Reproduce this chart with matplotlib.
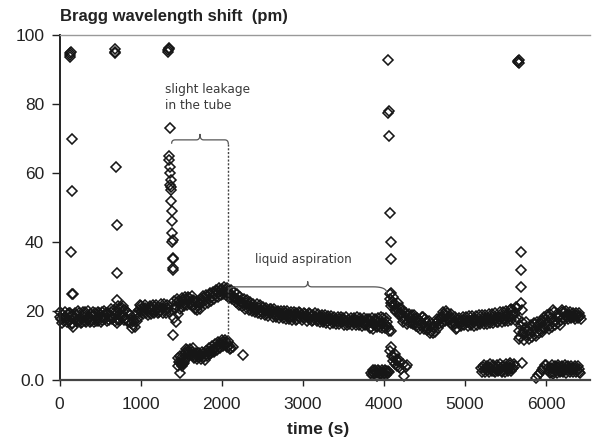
import numpy as np
import matplotlib
matplotlib.use('Agg')
import matplotlib.pyplot as plt

plt.rcParams['font.family'] = ['Liberation Sans', 'DejaVu Sans']

# main trace, one reading every 10 s (two interleaved lists)
t_main = np.arange(0, 6440, 20)
shift_main = [
    18.2, 17.6, 18.8, 17.9, 18.4, 19.2, 17.1, 18.6, 16.4, 17.8,
    18.9, 17.3, 19.4, 18.1, 16.9, 18.7, 19.6, 17.8, 18.3, 19.1,
    17.5, 18.6, 19.3, 18.0, 17.2, 18.9, 19.7, 18.4, 17.6, 19.0,
    19.5, 18.2, 19.8, 17.9, 18.8, 20.1, 17.4, 19.2, 18.5, 19.9,
    18.6, 17.8, 19.3, 17.2, 16.4, 15.9, 17.0, 18.8, 19.6, 20.2,
    19.7, 20.6, 19.9, 20.8, 20.3, 19.6, 20.9, 20.4, 21.2, 20.0,
    20.7, 21.3, 20.1, 20.9, 21.0, 20.4, 20.8, 20.5, np.nan, np.nan,
    np.nan, np.nan, 21.5, 19.0, 22.4, 21.2, 23.1, 22.0, 23.6, 22.8,
    23.9, 22.5, 21.4, 22.9, 21.0, 20.3, 22.2, 23.4, 22.7, 23.8,
    23.2, 24.1, 23.6, 24.8, 24.2, 25.3, 24.7, 25.8, 25.2, 26.1,
    26.3, 25.7, 26.0, 25.4, 25.0, 24.6, 24.9, 24.1, 23.8, 23.4,
    23.1, 22.6, 22.9, 22.2, 21.8, 22.3, 21.5, 21.9, 21.2, 20.8,
    21.3, 20.7, 20.4, 20.9, 20.1, 19.7, 20.3, 19.9, 19.5, 20.0,
    19.4, 19.8, 19.1, 19.6, 18.9, 19.3, 18.7, 19.2, 18.8, 19.5,
    18.6, 19.0, 18.4, 18.9, 18.2, 18.7, 19.3, 18.5, 18.1, 18.8,
    18.4, 17.9, 18.6, 18.2, 17.8, 18.5, 18.9, 18.0, 18.3, 17.7,
    18.2, 17.6, 18.4, 17.3, 17.9, 17.2, 17.7, 17.4, 17.8, 17.1,
    17.5, 17.0, 17.6, 17.2, 16.9, 17.4, 17.1, 16.8, 17.3, 16.9,
    17.2, 16.8, 17.4, 16.9, 17.1, 16.7, 17.3, 16.5, 17.0, 16.6,
    16.1, 17.5, 15.4, 16.8, 15.9, 17.2, 15.6, 16.9, 18.3, 16.2,
    16.6, 15.8, 16.9, 14.2, 23.5, 22.6, 21.4, 22.1, 20.5, 21.0,
    19.4, 18.1, 19.9, 17.6, 18.7, 16.9, 18.2, 17.1, 16.3, 17.8,
    16.5, 15.4, 17.2, 16.0, 18.3, 15.6, 16.8, 14.9, 15.7, 14.1,
    13.6, 15.2, 16.4, 17.0, 16.2, 17.8, 18.4, 19.1, 18.6, 19.3,
    18.2, 17.5, 17.9, 16.8, 16.1, 15.2, 16.6, 17.1, 16.9, 17.3,
    17.0, 16.7, 17.2, 16.9, 17.4, 16.8, 17.1, 17.5, 17.2, 16.9,
    17.4, 17.8, 17.1, 17.6, 18.0, 17.3, 17.7, 18.2, 17.5, 17.9,
    18.3, 17.6, 18.1, 18.6, 17.8, 18.4, 19.0, 18.2, 20.6, 18.7,
    18.9, 19.4, 20.8, 14.2, 12.6, 16.9, 13.8, 15.1, 12.9, 14.6,
    13.4, 15.3, 14.1, 16.2, 13.7, 15.8, 14.5, 16.6, 15.2, 17.4,
    16.1, 18.3, 15.6, 17.9, 16.8, 19.7, 17.2, 16.4, 18.6, 17.5,
    20.4, 19.6, 18.9, 18.4, 18.7, 18.2, 18.6, 18.3, 18.8, 18.5,
    18.4, 18.6,
]
t_main_b = np.arange(10, 6450, 20)
shift_main_b = [
    19.6, 16.5, 17.2, 19.8, 16.9, 17.4, 19.5, 16.2, 18.9, 19.4,
    16.8, 19.9, 17.0, 16.4, 19.7, 17.1, 16.7, 20.0, 16.9, 17.2,
    19.6, 16.9, 17.1, 19.8, 19.4, 16.8, 17.5, 19.9, 19.5, 17.1,
    17.4, 20.6, 17.6, 20.3, 17.1, 17.8, 20.5, 17.3, 20.8, 17.5,
    20.2, 19.8, 16.9, 18.8, 15.0, 17.4, 15.3, 17.2, 18.0, 21.6,
    21.4, 19.0, 21.6, 19.3, 18.9, 21.5, 19.2, 21.8, 19.4, 21.7,
    19.4, 19.6, 21.9, 19.5, 22.0, 19.3, 21.8, 19.6, np.nan, np.nan,
    np.nan, np.nan, 23.4, 22.8, 20.6, 23.9, 21.4, 24.2, 21.8, 24.0,
    21.9, 24.3, 23.1, 20.7, 22.6, 21.7, 20.6, 21.9, 24.4, 21.9,
    24.6, 22.4, 25.1, 22.9, 25.6, 23.6, 26.2, 24.1, 26.7, 24.6,
    25.0, 27.1, 24.6, 26.8, 23.8, 26.1, 23.4, 25.6, 22.7, 24.9,
    21.8, 24.0, 21.4, 23.5, 20.7, 23.1, 20.3, 22.6, 20.1, 22.0,
    19.8, 21.9, 19.3, 21.6, 19.1, 21.1, 18.8, 20.9, 18.5, 20.6,
    20.6, 18.4, 20.5, 18.2, 20.1, 18.0, 19.9, 17.9, 20.0, 17.8,
    19.9, 17.6, 19.8, 17.5, 19.6, 17.4, 17.6, 19.7, 19.4, 17.3,
    19.5, 19.1, 17.2, 19.4, 19.2, 17.1, 17.3, 19.3, 17.0, 19.1,
    16.9, 18.9, 16.7, 18.8, 16.6, 18.6, 16.3, 18.5, 16.4, 18.2,
    16.2, 18.3, 16.1, 18.4, 18.1, 16.0, 18.2, 15.9, 16.1, 18.0,
    15.9, 18.1, 16.0, 18.2, 15.8, 17.9, 15.7, 18.0, 15.8, 17.8,
    17.6, 15.0, 17.9, 14.8, 17.6, 15.3, 18.1, 15.5, 15.1, 17.9,
    15.2, 17.9, 15.4, 25.0, 21.4, 24.1, 20.2, 19.6, 22.3, 19.2,
    20.9, 16.8, 18.6, 19.5, 16.1, 19.2, 16.5, 18.9, 18.7, 15.6,
    18.1, 17.3, 14.8, 18.2, 14.9, 17.6, 14.4, 17.2, 13.5, 16.3,
    15.3, 13.9, 17.8, 15.2, 18.1, 16.4, 19.8, 17.2, 20.1, 17.4,
    16.4, 19.0, 15.8, 18.3, 14.7, 17.3, 18.0, 15.6, 18.4, 15.8,
    18.4, 15.6, 18.6, 15.8, 18.5, 15.7, 18.6, 16.0, 18.7, 16.1,
    18.8, 16.2, 18.9, 16.3, 19.2, 16.4, 19.0, 16.6, 19.3, 16.7,
    16.8, 19.6, 16.9, 19.8, 17.0, 19.9, 17.1, 20.2, 17.3, 20.4,
    17.4, 21.2, 17.6, 11.8, 15.7, 13.4, 11.5, 16.8, 14.2, 11.9,
    15.9, 12.6, 16.4, 12.8, 16.9, 13.6, 17.1, 13.9, 18.2, 15.1,
    18.8, 14.7, 19.1, 15.4, 20.3, 15.8, 19.0, 17.9, 16.0, 19.6,
    18.0, 17.6, 19.9, 17.7, 19.6, 17.9, 19.5, 17.8, 19.3, 17.9,
    19.4, 17.8,
]

# spikes and scattered readings around the main trace
t_spike = [130, 125, 135, 140, 150, 150, 145, 150, 166, 166, 120,
           680, 690, 685, 700, 705, 705, 705, 710, 717, 785,
           1338, 1345, 1342, 1350, 1360, 1350, 1355, 1360, 1365, 1370, 1368,
           1375, 1372, 1380, 1385, 1382, 1390, 1395, 1388, 1398, 1400, 1395,
           1400, 1410, 1420, 1415, 1405, 1430, 1440, 1450,
           4050, 4055, 4060, 4058, 4070, 4085, 4085, 4085, 4085, 4085,
           5653, 5660, 5665, 5658, 5686, 5686, 5686, 5690, 5700, 5705]
y_spike = [94.2, 93.6, 94.8, 95.0, 69.8, 54.9, 37.0, 25.0, 15.4, 25.0, 19.5,
           95.2, 95.8, 94.9, 61.8, 45.0, 31.1, 23.2, 16.5, 21.4, 21.4,
           95.7, 96.3, 95.2, 96.0, 73.0, 65.0, 63.8, 61.8, 60.0, 58.0, 56.5,
           55.8, 55.2, 52.0, 49.0, 46.0, 42.5, 40.5, 40.0, 35.5, 35.0, 32.5,
           32.0, 23.0, 21.0, 18.0, 13.0, 20.5, 16.8, 22.5,
           92.8, 77.5, 78.1, 70.8, 48.4, 40.1, 35.0, 25.3, 22.3, 14.2,
           92.3, 92.8, 92.0, 92.6, 37.0, 32.0, 27.0, 22.3, 20.3, 5.0]

# lower trace
t_low = [1460, 1470, 1480, 1490, 1500, 1510, 1520, 1530, 1540, 1550,
         1570, 1590, 1610, 1630, 1650, 1670, 1690, 1710, 1730, 1750,
         1770, 1790, 1810, 1830, 1850, 1870, 1890, 1910, 1930, 1950,
         1970, 1990, 2010, 2030, 2050, 2070, 2090, 2110, 2140, 2260,
         3840, 3860, 3880, 3900, 3920, 3940, 3960, 3980, 4000, 4020,
         4040, 4060, 4080, 4090, 4100, 4110, 4120, 4130, 4140, 4150,
         4160, 4170, 4180, 4190, 4210, 4230, 4250, 4270, 4290,
         5200, 5220, 5240, 5260, 5280, 5300, 5320, 5340, 5360, 5380,
         5400, 5420, 5440, 5460, 5480, 5500, 5520, 5540, 5555, 5580,
         5590, 5610,
         5870, 5900, 5925, 5945, 5960, 5980, 6000, 6020, 6040, 6060,
         6080, 6100, 6120, 6140, 6160, 6180, 6200, 6220, 6240, 6260,
         6280, 6300, 6320, 6340, 6360, 6380, 6400, 6420]
y_low = [6.5, 5.2, 2.0, 4.8, 6.3, 5.0, 4.5, 5.6, 4.9, 7.8,
         8.6, 8.0, 9.0, 8.2, 7.2, 6.8, 7.1, 6.6, 7.3, 6.9,
         7.4, 5.9, 7.6, 8.1, 8.4, 7.9, 9.0, 8.7, 9.5, 10.1,
         9.6, 10.6, 11.1, 10.4, 11.0, 10.3, 10.0, 9.4, 9.5, 7.2,
         2.0, 2.4, 1.7, 2.2, 1.9, 2.5, 1.8, 2.3, 2.0, 2.6,
         1.9, 2.2, 8.3, 9.5, 7.0, 5.5, 6.8, 4.6, 7.4, 5.9,
         4.2, 6.2, 3.9, 5.1, 3.3, 4.7, 1.3, 3.9, 4.4,
         3.6, 3.9, 3.1, 3.5, 2.8, 3.7, 3.2, 3.8, 2.6, 3.4,
         3.9, 3.0, 3.6, 2.5, 3.3, 3.8, 3.1, 3.5, 4.9, 3.2,
         3.5, 4.1,
         0.6, 1.4, 2.0, 3.0, 3.6, 4.4, 4.3, 3.5, 2.7, 3.4,
         2.2, 3.1, 2.5, 3.8, 3.2, 2.6, 3.5, 2.9, 3.7, 3.0,
         3.4, 2.8, 3.6, 3.1, 3.5, 2.9, 3.3, 2.1]
t_low_b = [1465, 1485, 1505, 1525, 1545, 1560, 1580, 1600, 1620, 1640,
           1660, 1680, 1700, 1720, 1740, 1760, 1780, 1800, 1820, 1840,
           1860, 1880, 1900, 1920, 1940, 1960, 1980, 2000, 2020, 2040,
           2060, 2080, 2100,
           3850, 3870, 3890, 3910, 3930, 3950, 3970, 3990, 4010, 4030, 4050,
           5210, 5230, 5250, 5270, 5290, 5310, 5330, 5350, 5370, 5390,
           5410, 5430, 5450, 5470, 5490, 5510, 5530, 5550, 5570, 5600,
           6050, 6070, 6090, 6110, 6130, 6150, 6170, 6190, 6210, 6230,
           6250, 6270, 6290, 6310, 6330, 6350, 6370, 6390, 6410]
y_low_b = [4.2, 6.9, 4.1, 6.2, 5.9, 9.1, 7.4, 8.4, 7.6, 9.3,
           6.3, 7.8, 6.0, 7.9, 6.2, 8.0, 6.7, 8.3, 7.0, 9.2,
           7.6, 9.8, 8.2, 10.3, 8.8, 10.9, 9.4, 11.6, 9.8, 11.7,
           9.6, 11.2, 9.0,
           1.4, 3.0, 2.9, 1.3, 2.8, 1.6, 2.9, 1.4, 2.8, 1.5, 2.7,
           2.4, 4.4, 2.3, 4.2, 2.2, 4.5, 2.5, 4.3, 2.2, 4.4,
           2.6, 4.5, 2.3, 4.2, 2.4, 4.6, 2.5, 4.3, 2.7, 4.6,
           2.1, 4.3, 1.8, 4.1, 2.0, 4.4, 2.2, 4.2, 2.3, 4.3,
           2.0, 4.1, 2.4, 4.0, 2.2, 4.2, 2.3, 4.1, 2.4]

xticks = [0, 1000, 2000, 3000, 4000, 5000, 6000]
yticks = [0, 20, 40, 60, 80, 100]
ytick_labels = ['0.0', '20', '40', '60', '80', '100']


def qbez(p0, p1, p2, n=12):
    s = np.linspace(0, 1, n)
    x = (1 - s)**2 * p0[0] + 2 * (1 - s) * s * p1[0] + s**2 * p2[0]
    y = (1 - s)**2 * p0[1] + 2 * (1 - s) * s * p1[1] + s**2 * p2[1]
    return list(x), list(y)


def brace(ax, x0, x1, xtip, y, h0, h1, htip, dx0, dx1, dxt):
    xs, ys = [], []
    for seg in [qbez((x0, y - h0), (x0, y), (x0 + dx0, y)),
                qbez((xtip - dxt, y), (xtip, y), (xtip, y + htip)),
                qbez((xtip, y + htip), (xtip, y), (xtip + dxt, y)),
                qbez((x1 - dx1, y), (x1, y), (x1, y - h1))]:
        xs += seg[0]
        ys += seg[1]
    ax.plot(xs, ys, color='#555555', lw=0.9, solid_capstyle='round')


fig = plt.figure(figsize=(5.92, 4.4), dpi=100)
ax = fig.add_axes([59.5 / 592, 60 / 440, 530.5 / 592, 345 / 440])

mk = dict(ls='none', marker='D', ms=4.8, mfc='none', mec='#161616', mew=1.15, clip_on=False)
ax.plot(t_main, shift_main, **mk)
ax.plot(t_main_b, shift_main_b, **mk)
ax.plot(t_spike, y_spike, **mk)
ax.plot(t_low, y_low, **mk)
ax.plot(t_low_b, y_low_b, **mk)

# annotations
brace(ax, 1383, 2081, 1732, 69.6, 1.0, 1.2, 1.6, 45, 45, 45)
ax.plot([2081, 2081], [68.4, 11], color='#444444', lw=1.0, ls=(0, (1.5, 1.2)))
brace(ax, 2080, 4035, 3060, 27.0, 1.4, 1.8, 1.5, 110, 170, 50)
ax.text(1300, 86, 'slight leakage\nin the tube', fontsize=8.7, color='#3a3a3a',
        family='DejaVu Sans', va='top', ha='left', linespacing=1.25)
ax.text(2410, 34.8, 'liquid aspiration', fontsize=8.6, color='#3a3a3a',
        family='DejaVu Sans', va='center', ha='left')

ax.set_xlim(0, 6540)
ax.set_ylim(0, 100)
ax.set_xticks(xticks)
ax.set_yticks(yticks)
ax.set_yticklabels(ytick_labels)
ax.tick_params(axis='x', length=4, width=1, pad=8, labelsize=12.5, colors='#222222')
ax.tick_params(axis='y', length=6, width=1, pad=5, labelsize=12.5, colors='#222222')

ax.spines['right'].set_visible(False)
ax.spines['top'].set_color('#999999')
ax.spines['top'].set_linewidth(1.0)
ax.spines['left'].set_color('#222222')
ax.spines['left'].set_linewidth(1.4)
ax.spines['bottom'].set_color('#444444')
ax.spines['bottom'].set_linewidth(1.6)

fig.text(60 / 592, 1 - 17 / 440, 'Bragg wavelength shift  (pm)', fontsize=12,
         fontweight='bold', color='#222222', ha='left', va='center')
fig.text(318 / 592, 1 - 429 / 440, 'time (s)', fontsize=12.5, fontweight='bold',
         color='#222222', ha='center', va='center')

fig.savefig('out.png', dpi=100)
